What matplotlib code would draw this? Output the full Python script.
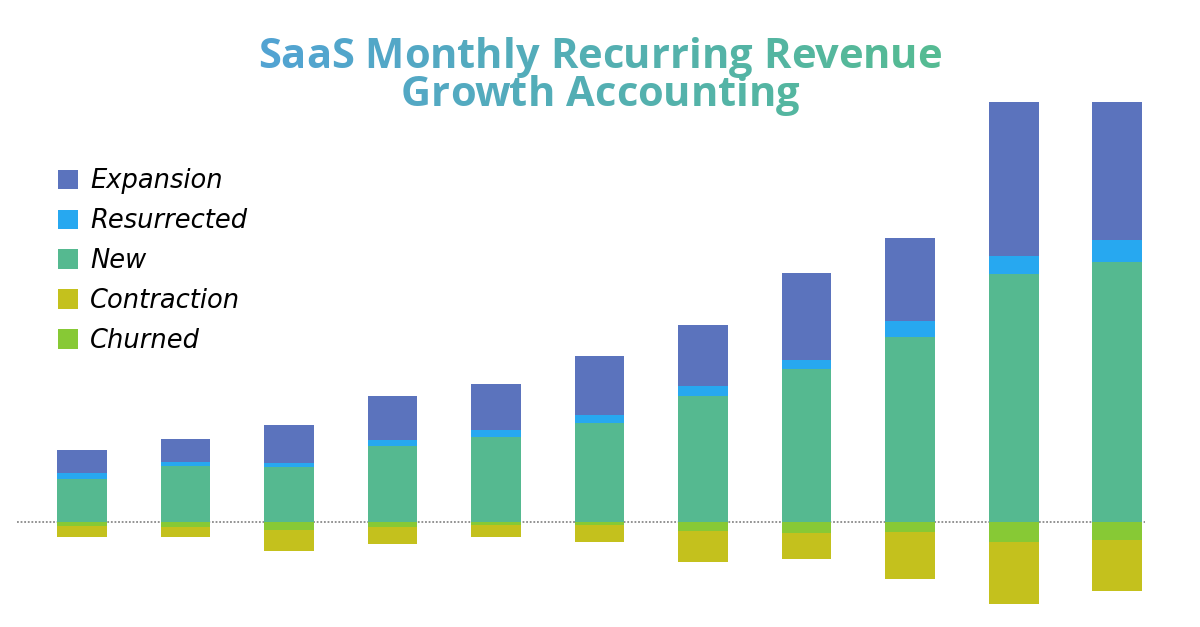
import numpy as np
import matplotlib.pyplot as plt
from matplotlib.patches import Patch
from matplotlib.colors import to_rgb

# monthly MRR components, $K
months = ['M1', 'M2', 'M3', 'M4', 'M5', 'M6', 'M7', 'M8', 'M9', 'M10', 'M11']
new = [43, 56, 55, 76, 85, 99, 126, 153, 185, 248, 260]
resurrected = [6, 4, 4, 6, 7, 8, 10, 9, 16, 18, 22]
expansion = [23, 23, 38, 44, 46, 59, 61, 87, 83, 154, 138]
churned = [4, 5, 8, 5, 3, 3, 9, 11, 10, 20, 18]
contraction = [11, 10, 21, 17, 12, 17, 31, 26, 47, 62, 51]

colors = {
    'Expansion': '#5b73bd',
    'Resurrected': '#27a8f0',
    'New': '#55b990',
    'Contraction': '#c4c11d',
    'Churned': '#87c935',
}

TITLE_FONT = 'Open Sans'
LABEL_FONT = 'DejaVu Sans'

fig = plt.figure(figsize=(12, 6.27), dpi=100)
ax = fig.add_axes([0, 0, 1, 1])

x = np.arange(len(months))
w = 0.48
new_a = np.array(new)
res_a = np.array(resurrected)
exp_a = np.array(expansion)
chu_a = np.array(churned)
con_a = np.array(contraction)

ax.bar(x, new_a, w, color=colors['New'], zorder=3)
ax.bar(x, res_a, w, bottom=new_a, color=colors['Resurrected'], zorder=3)
ax.bar(x, exp_a, w, bottom=new_a + res_a, color=colors['Expansion'], zorder=3)
ax.bar(x, -chu_a, w, color=colors['Churned'], zorder=3)
ax.bar(x, -con_a, w, bottom=-chu_a, color=colors['Contraction'], zorder=3)

# dotted zero line
ax.hlines(0, -0.63, len(months) - 1 + 0.27, colors='#8a8a8a', linestyles=(0, (1, 1)),
          linewidth=1.3, zorder=2)

ax.set_xlim(-0.792, 10.80)
ax.set_ylim(-105, 522)
ax.axis('off')

# legend
order = ['Expansion', 'Resurrected', 'New', 'Contraction', 'Churned']
handles = [Patch(facecolor=colors[k], edgecolor='none', label=k) for k in order]
ax.legend(handles=handles, loc='upper left', bbox_to_anchor=(0.040, 0.748),
          frameon=False, prop={'family': LABEL_FONT, 'style': 'italic', 'size': 18.5},
          handlelength=0.78, handleheight=0.78, labelspacing=0.54, handletextpad=0.47,
          borderaxespad=0)


# title with a left-to-right colour gradient, drawn character by character
c_left = np.array(to_rgb('#52a3d3'))
c_right = np.array(to_rgb('#55bb92'))
grad_x0, grad_x1 = 263, 937
renderer = fig.canvas.get_renderer()


def gradient_line(text, y_px, size):
    kw = dict(fontsize=size, weight='bold', family=TITLE_FONT, va='baseline', ha='left')
    full = fig.text(0, 0, text, **kw)
    total = full.get_window_extent(renderer).width
    full.remove()
    left = 600 - total / 2
    for i, ch in enumerate(text):
        if ch == ' ':
            continue
        if i > 0:
            pre = fig.text(0, 0, text[:i], **kw)
            off = pre.get_window_extent(renderer).width
            pre.remove()
        else:
            off = 0
        one = fig.text(0, 0, ch, **kw)
        cw = one.get_window_extent(renderer).width
        one.remove()
        cx = left + off + cw / 2
        t = np.clip((cx - grad_x0) / (grad_x1 - grad_x0), 0, 1)
        col = c_left * (1 - t) + c_right * t
        fig.text((left + off) / 1200, 1 - y_px / 627, ch, color=col, **kw)


gradient_line('SaaS Monthly Recurring Revenue', 68, 30)
gradient_line('Growth Accounting', 106, 30)

fig.savefig('out.png', dpi=100, facecolor='white')
